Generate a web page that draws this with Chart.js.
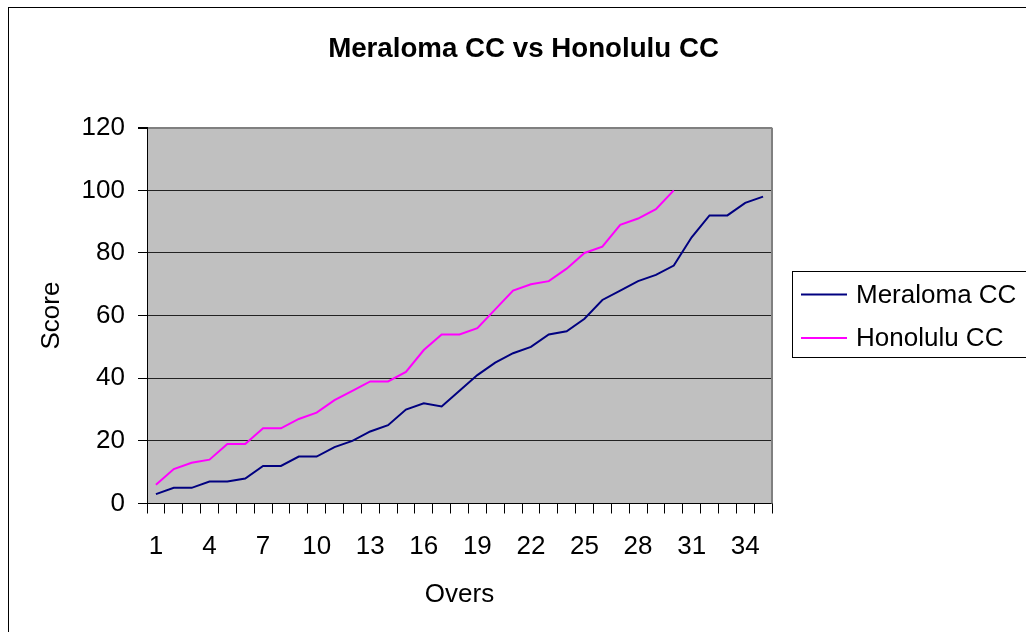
<!DOCTYPE html>
<html>
<head>
<meta charset="utf-8">
<title>Meraloma CC vs Honolulu CC</title>
<script src="https://cdn.jsdelivr.net/npm/chart.js@4"></script>
<style>
    html, body { margin:0; padding:0; background:#fff; }
</style>
</head>
<body>
<canvas id="myChart" width="1026" height="632"></canvas>
<script>
    var overs=["1","2","3","4","5","6","7","8","9","10","11","12","13","14","15","16","17","18",
               "19","20","21","22","23","24","25","26","27","28","29","30","31","32","33","34","35"]

    var meraloma=[3,5,5,7,7,8,12,12,15,15,18,20,23,25,30,32,31,36,41,45,48,50,54,55,59,65,68,71,73,76,85,92,92,96,98]
    var honolulu=[6,11,13,14,19,19,24,24,27,29,33,36,39,39,42,49,54,54,56,62,68,70,71,75,80,82,89,91,94,100]

    var scoreMin=0
    var scoreMax=120
    var scoreStep=20

    var font='Arial, "Liberation Sans", sans-serif'
    Chart.defaults.font.family=font
    Chart.defaults.color="#000"

    // grey plot area + outer frame, like the old excel chart
    var plotArea={
        id:"plotArea",
        beforeDraw:function(chart){
            var a=chart.chartArea, ctx=chart.ctx
            ctx.save()
            ctx.fillStyle="#c0c0c0"
            ctx.fillRect(a.left,a.top,a.right-a.left,a.bottom-a.top)
            ctx.restore()
        },
        beforeDatasetsDraw:function(chart){
            var a=chart.chartArea, ctx=chart.ctx
            ctx.save()
            ctx.strokeStyle="#808080"
            ctx.lineWidth=2
            ctx.beginPath()
            ctx.moveTo(a.right,a.top)
            ctx.lineTo(a.right,a.bottom)
            ctx.stroke()
            ctx.restore()
        },
        afterDraw:function(chart){
            var ctx=chart.ctx
            ctx.save()
            ctx.strokeStyle="#000"
            ctx.lineWidth=1
            ctx.strokeRect(8.5,7.5,chart.width+20,chart.height+20)
            ctx.restore()
        }
    }

    // legend in a box on the right of the plot
    var boxLegend={
        id:"boxLegend",
        afterDraw:function(chart){
            var a=chart.chartArea, ctx=chart.ctx
            var left=a.right+20
            var mid=(a.top+a.bottom)/2
            ctx.save()
            ctx.strokeStyle="#000"
            ctx.lineWidth=1
            ctx.strokeRect(Math.round(left)+0.5,Math.round(mid-45)+0.5,chart.width,86)
            ctx.font="26px "+font
            ctx.textBaseline="middle"
            ctx.fillStyle="#000"
            chart.data.datasets.forEach(function(ds,i){
                var y=mid-21+i*43.5
                ctx.strokeStyle=ds.borderColor
                ctx.lineWidth=2
                ctx.beginPath()
                ctx.moveTo(left+9,y)
                ctx.lineTo(left+55,y)
                ctx.stroke()
                ctx.fillText(ds.label,left+64,y+1)
            })
            ctx.restore()
        }
    }

    var myChart=document.getElementById("myChart").getContext('2d')

    var chart=new Chart(myChart,{
        type:'line',
        data:{
            labels:overs,
            datasets:[
                {
                    label:"Meraloma CC",
                    data:meraloma,
                    borderColor:"#000080",
                    backgroundColor:"#000080",
                    borderWidth:2,
                    pointRadius:0,
                    yAxisID:'y'
                },
                {
                    label:"Honolulu CC",
                    data:honolulu,
                    borderColor:"#ff00ff",
                    backgroundColor:"#ff00ff",
                    borderWidth:2,
                    pointRadius:0,
                    yAxisID:'y'
                }
            ]
        },
        options:{
            responsive:false,
            animation:false,
            devicePixelRatio:1,
            layout:{padding:{left:21,right:0,top:0,bottom:0}},
            plugins:{
                legend:{display:false},
                tooltip:{enabled:false},
                title:{
                    display:true,
                    text:"Meraloma CC vs Honolulu CC",
                    color:"#000",
                    font:{size:27.7,weight:'bold'},
                    padding:{top:32.4,bottom:62.1}
                }
            },
            scales:{
                x:{
                    offset:true,
                    grid:{offset:true,drawOnChartArea:false,tickLength:10,color:"#000",tickColor:"#000"},
                    border:{color:"#000"},
                    ticks:{
                        autoSkip:false,
                        maxRotation:0,
                        padding:18,
                        font:{size:26},
                        callback:function(v,i){ return i%3===0 ? overs[i] : '' }
                    },
                    title:{display:true,text:"Overs",font:{size:26},padding:{top:4,bottom:22}},
                    afterFit:function(s){ s.height=128.5 }
                },
                y:{
                    min:scoreMin,
                    max:scoreMax,
                    ticks:{stepSize:scoreStep,padding:13,font:{size:26}},
                    grid:{
                        color:function(c){ return c.tick && c.tick.value===scoreMax ? "#808080" : "#222" },
                        lineWidth:function(c){ return c.tick && c.tick.value===scoreMax ? 2 : 1 },
                        tickLength:9,
                        tickColor:"#000"
                    },
                    border:{color:"#000"},
                    title:{display:true,text:"Score",font:{size:26},padding:{top:15,bottom:0}},
                    afterFit:function(s){ s.width=126 }
                },
                // empty room for the legend box
                pad:{
                    type:'linear',
                    position:'right',
                    grid:{display:false},
                    ticks:{display:false},
                    border:{display:false},
                    afterFit:function(s){ s.width=254 }
                }
            }
        },
        plugins:[plotArea,boxLegend]
    })
</script>
</body>
</html>
